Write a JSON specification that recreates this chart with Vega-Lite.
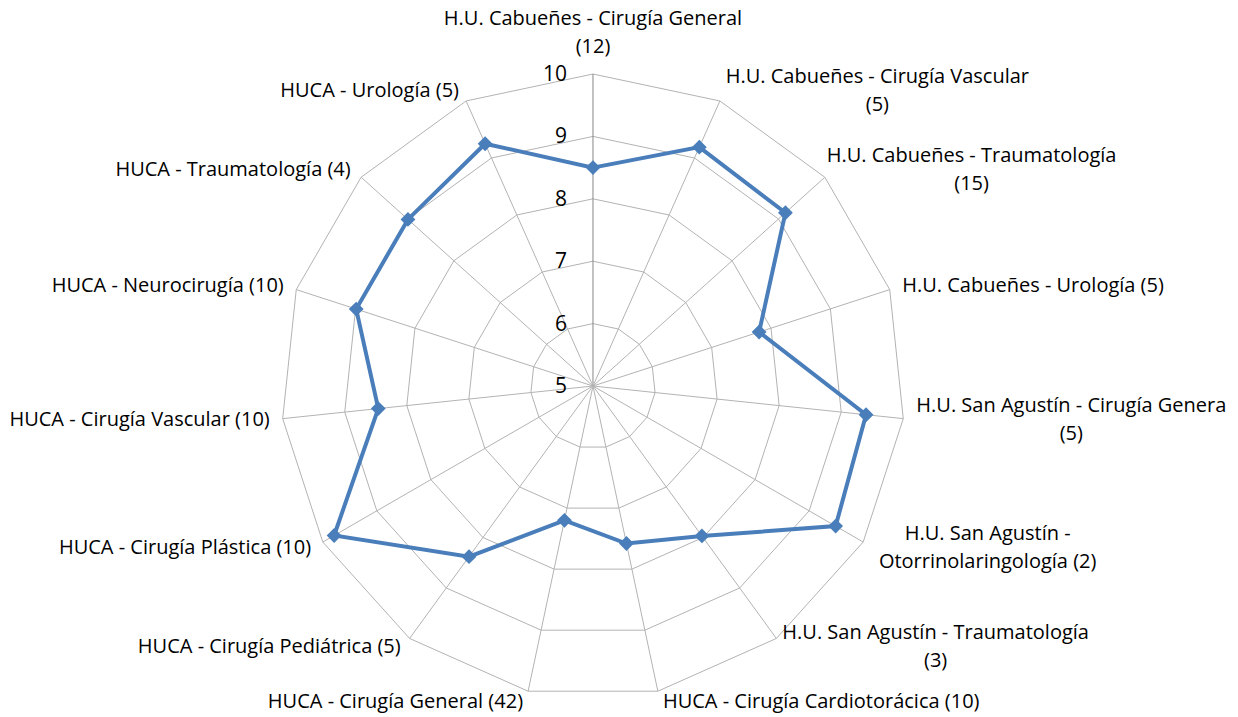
{
  "$schema": "https://vega.github.io/schema/vega-lite/v6.json",
  "width": 1238,
  "height": 717,
  "autosize": {"type": "none"},
  "padding": 0,
  "background": "#ffffff",
  "config": {"view": {"stroke": null}},
  "datasets": {
    "cats": [
      {"i": 0, "label": "H.U. Cabueñes - Cirugía General\n(12)", "value": 8.50},
      {"i": 1, "label": "H.U. Cabueñes - Cirugía Vascular\n(5)", "value": 9.19},
      {"i": 2, "label": "H.U. Cabueñes - Traumatología\n(15)", "value": 9.15},
      {"i": 3, "label": "H.U. Cabueñes - Urología (5)", "value": 7.80},
      {"i": 4, "label": "H.U. San Agustín - Cirugía Genera\n(5)", "value": 9.40},
      {"i": 5, "label": "H.U. San Agustín -\nOtorrinolaringología (2)", "value": 9.49},
      {"i": 6, "label": "H.U. San Agustín - Traumatología\n(3)", "value": 7.97},
      {"i": 7, "label": "HUCA - Cirugía Cardiotorácica (10)", "value": 7.58},
      {"i": 8, "label": "HUCA - Cirugía General (42)", "value": 7.20},
      {"i": 9, "label": "HUCA - Cirugía Pediátrica (5)", "value": 8.38},
      {"i": 10, "label": "HUCA - Cirugía Plástica (10)", "value": 9.79},
      {"i": 11, "label": "HUCA - Cirugía Vascular (10)", "value": 8.46},
      {"i": 12, "label": "HUCA - Neurocirugía (10)", "value": 8.99},
      {"i": 13, "label": "HUCA - Traumatología (4)", "value": 8.99},
      {"i": 14, "label": "HUCA - Urología (5)", "value": 9.25}
    ],
    "levels": [
      {"level": 5, "i": [0,1,2,3,4,5,6,7,8,9,10,11,12,13,14]},
      {"level": 6, "i": [0,1,2,3,4,5,6,7,8,9,10,11,12,13,14]},
      {"level": 7, "i": [0,1,2,3,4,5,6,7,8,9,10,11,12,13,14]},
      {"level": 8, "i": [0,1,2,3,4,5,6,7,8,9,10,11,12,13,14]},
      {"level": 9, "i": [0,1,2,3,4,5,6,7,8,9,10,11,12,13,14]},
      {"level": 10, "i": [0,1,2,3,4,5,6,7,8,9,10,11,12,13,14]}
    ]
  },
  "encoding": {
    "x": {"field": "px", "type": "quantitative", "scale": {"domain": [-9.503, 10.337], "nice": false, "zero": false}, "axis": null},
    "y": {"field": "py", "type": "quantitative", "scale": {"domain": [-5.304, 6.186], "nice": false, "zero": false}, "axis": null}
  },
  "layer": [
    {
      "data": {"name": "levels"},
      "transform": [
        {"filter": "datum.level > 5"},
        {"flatten": ["i"]},
        {"calculate": "datum.i * 2 * PI / 15", "as": "a"},
        {"calculate": "(datum.level - 5) * sin(datum.a)", "as": "px"},
        {"calculate": "(datum.level - 5) * cos(datum.a)", "as": "py"}
      ],
      "mark": {"type": "line", "interpolate": "linear-closed", "stroke": "#b3b3b3", "strokeWidth": 1},
      "encoding": {
        "detail": {"field": "level", "type": "nominal"},
        "order": {"field": "i", "type": "quantitative"}
      }
    },
    {
      "data": {"name": "cats"},
      "transform": [
        {"calculate": "datum.i * 2 * PI / 15", "as": "a"},
        {"calculate": "5 * sin(datum.a)", "as": "px"},
        {"calculate": "5 * cos(datum.a)", "as": "py"}
      ],
      "mark": {"type": "rule", "strokeWidth": 1},
      "encoding": {
        "x2": {"datum": 0},
        "y2": {"datum": 0},
        "stroke": {"condition": {"test": "datum.i === 0", "value": "#878787"}, "value": "#b3b3b3"}
      }
    },
    {
      "data": {"name": "levels"},
      "transform": [
        {"calculate": "0", "as": "px"},
        {"calculate": "datum.level - 5", "as": "py"}
      ],
      "mark": {"type": "text", "align": "right", "baseline": "middle", "dx": -26, "dy": 1, "font": "Open Sans", "fontSize": 21, "fill": "#000000"},
      "encoding": {"text": {"field": "level", "type": "quantitative"}}
    },
    {
      "data": {"name": "cats"},
      "transform": [
        {"calculate": "datum.i * 2 * PI / 15", "as": "a"},
        {"calculate": "(datum.value - 5) * sin(datum.a)", "as": "px"},
        {"calculate": "(datum.value - 5) * cos(datum.a)", "as": "py"}
      ],
      "layer": [
        {
          "mark": {"type": "line", "interpolate": "linear-closed", "stroke": "#4a7ebb", "strokeWidth": 4},
          "encoding": {"order": {"field": "i", "type": "quantitative"}}
        },
        {
          "mark": {"type": "point", "shape": "diamond", "filled": true, "fill": "#4a7ebb", "opacity": 1, "size": 220, "strokeWidth": 0}
        }
      ]
    },
    {
      "data": {"name": "cats"},
      "transform": [
        {"calculate": "datum.i * 2 * PI / 15", "as": "a"},
        {"calculate": "sin(datum.a)", "as": "s"},
        {"calculate": "cos(datum.a)", "as": "c"},
        {"calculate": "split(datum.label, '\\n')", "as": "lines"},
        {"calculate": "length(datum.lines)", "as": "n"},
        {"calculate": "max(length(datum.lines[0]), length(datum.lines[datum.n - 1]))", "as": "maxlen"},
        {"calculate": "5 * datum.s + (datum.s > 0.01 ? 1 : datum.s < -0.01 ? -1 : 0) * (3 + 10 * abs(datum.s)) / 62.4 + (datum.s > 0.01 && datum.n > 1 ? datum.maxlen * 9.4 / 2 / 62.4 : 0)", "as": "px"},
        {"calculate": "(datum.i === 0 ? 5 + 41 / 62.4 : 5 * datum.c + 11 * datum.c / 62.4) + (datum.n - 1) * 14 / 62.4", "as": "py"}
      ],
      "layer": [
        {
          "transform": [{"filter": "datum.i === 0 || (datum.s > 0.01 && datum.n > 1)"}],
          "mark": {"type": "text", "align": "center", "baseline": "middle", "lineBreak": "\n", "lineHeight": 28, "font": "Open Sans", "fontSize": 20, "fill": "#000000"},
          "encoding": {"text": {"field": "label", "type": "nominal"}}
        },
        {
          "transform": [{"filter": "datum.i !== 0 && datum.s > 0.01 && datum.n === 1"}],
          "mark": {"type": "text", "align": "left", "baseline": "middle", "font": "Open Sans", "fontSize": 20, "fill": "#000000"},
          "encoding": {"text": {"field": "label", "type": "nominal"}}
        },
        {
          "transform": [{"filter": "datum.s < -0.01"}],
          "mark": {"type": "text", "align": "right", "baseline": "middle", "font": "Open Sans", "fontSize": 20, "fill": "#000000"},
          "encoding": {"text": {"field": "label", "type": "nominal"}}
        }
      ]
    }
  ]
}
